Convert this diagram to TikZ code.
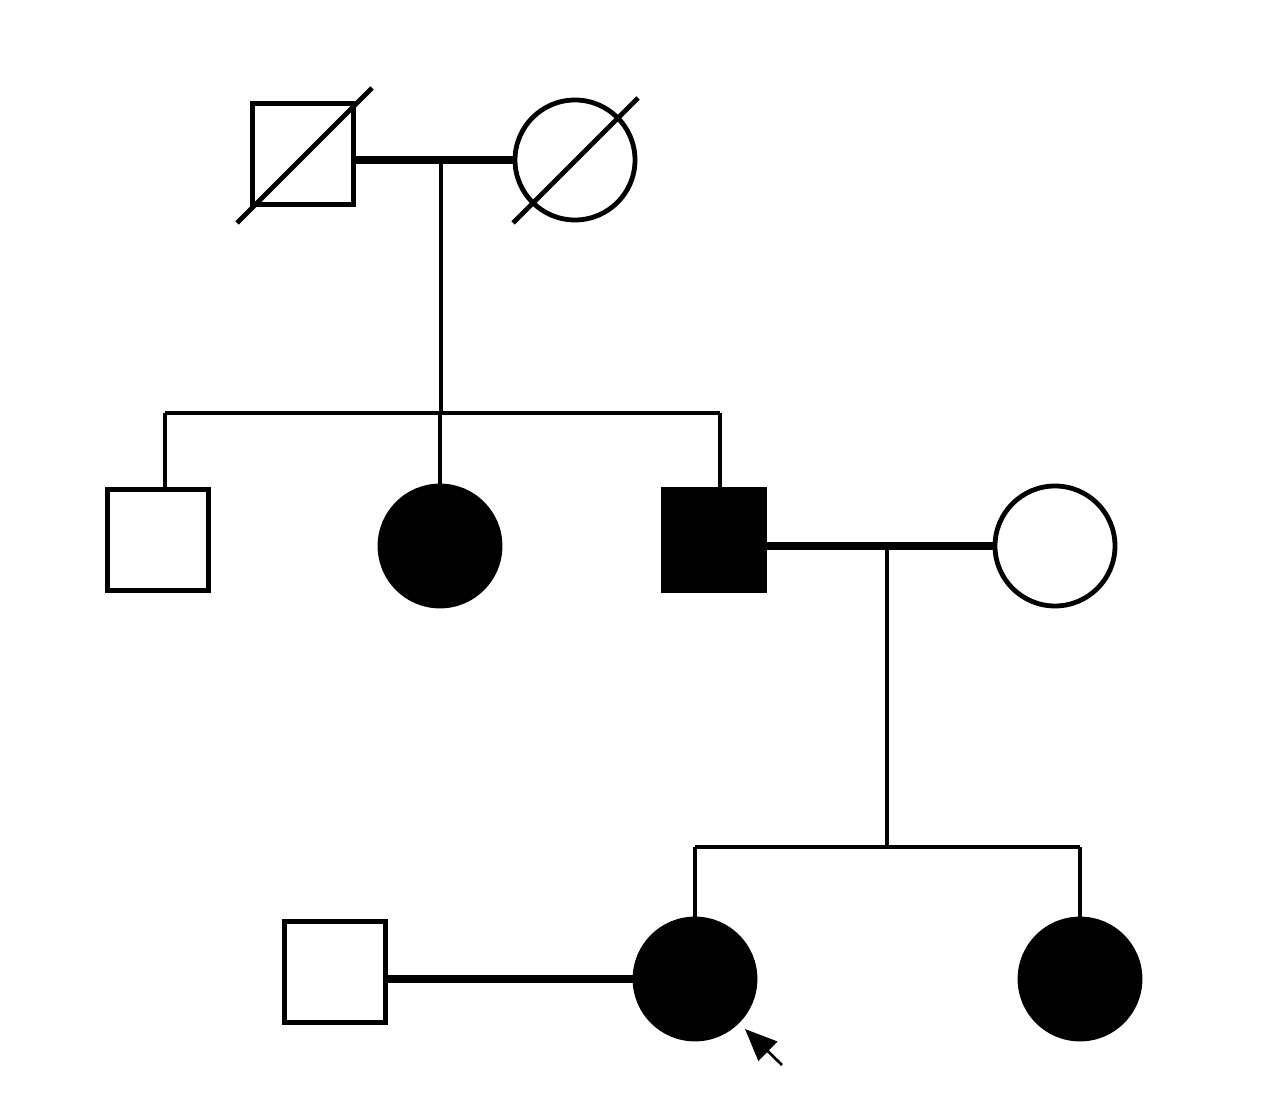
\documentclass[tikz,border=0pt]{standalone}
\usetikzlibrary{arrows.meta}
\begin{document}
\begin{tikzpicture}[x=0.75pt,y=-0.75pt,
  male/.style={draw,line width=3.6pt,minimum size=76pt,inner sep=0pt,outer sep=0pt},
  female/.style={draw,circle,line width=3.6pt,minimum size=90pt,inner sep=0pt,outer sep=0pt},
  aff/.style={fill=black},
  rel/.style={line width=3pt},
  mar/.style={line width=6pt}]
\useasboundingbox (0,0) rectangle (1279,1112);
% generation I
\node[male] (m1) at (303,154) {};
\node[female] (f1) at (575,160) {};
\draw[line width=3.6pt] (237,223) -- (372,88);
\draw[line width=3.6pt] (513,223) -- (638,98);
\draw[mar] (m1.east |- 0,160) -- (f1.west);
\coordinate (d1) at (441,160);
\coordinate (s1) at (441,413);
\draw[rel] (d1) -- (s1);
% generation II
\node[male] (m2) at (158,540) {};
\node[female,aff] (f2) at (440,546) {};
\node[male,aff] (m3) at (714,540) {};
\node[female] (f3) at (1055,546) {};
\coordinate (sl) at (165,413);
\coordinate (sr) at (720,413);
\draw[rel] (sl) -- (sr);
\draw[rel] (sl) -- (m2.north -| sl);
\draw[rel] (s1 -| f2) -- (f2.north);
\draw[rel] (sr) -- (m3.north -| sr);
\draw[mar] (m3.east |- 0,546) -- (f3.west);
\coordinate (d2) at (887,546);
\coordinate (s2) at (887,847);
\draw[rel] (d2) -- (s2);
% generation III
\node[female,aff] (f4) at (695,979) {};
\node[female,aff] (f5) at (1080,979) {};
\node[male] (m4) at (335,972) {};
\coordinate (tl) at (695,847);
\coordinate (tr) at (1080,847);
\draw[rel] (tl) -- (tr);
\draw[rel] (tl) -- (f4.north);
\draw[rel] (tr) -- (f5.north);
\draw[mar] (m4.east |- 0,979) -- (f4.west);
\coordinate (pa) at (782,1065);
\coordinate (pb) at (745,1029);
\draw[line width=2pt,-{Triangle[length=24pt,width=20pt]}] (pa) -- (pb);
\end{tikzpicture}
\end{document}
